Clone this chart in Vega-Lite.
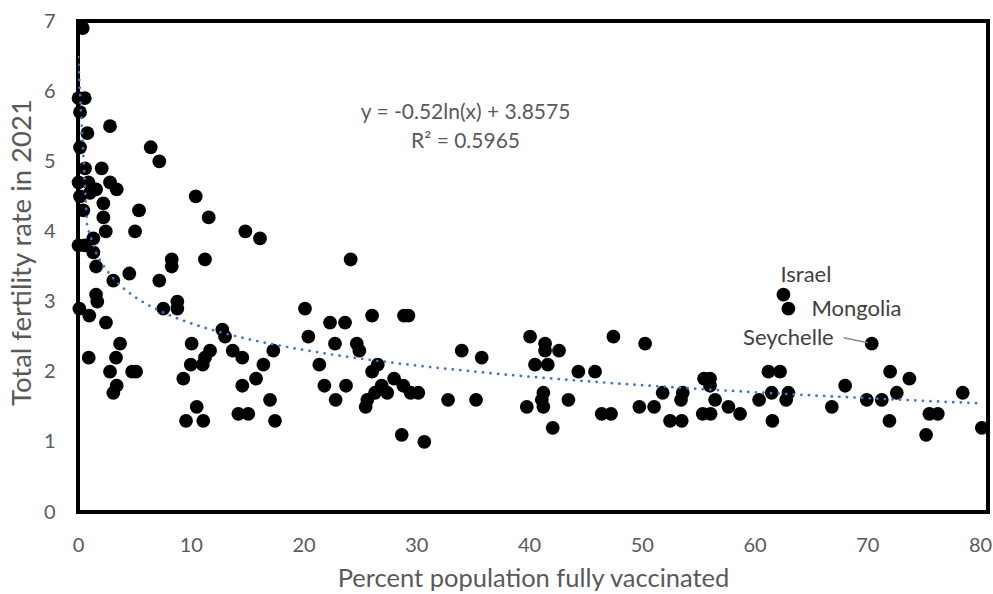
{
  "$schema": "https://vega.github.io/schema/vega-lite/v6.json",
  "width": 910,
  "height": 491,
  "autosize": "none",
  "padding": {"left": 78, "top": 21, "right": 5, "bottom": 82},
  "background": "white",
  "config": {
    "view": {"stroke": "black", "strokeWidth": 4},
    "font": "Lato",
    "axis": {
      "grid": false,
      "ticks": false,
      "domain": false,
      "labelFlush": false,
      "labelColor": "#595959",
      "labelFontSize": 20,
      "labelPadding": 23,
      "titleColor": "#595959",
      "titleFontSize": 25.5,
      "titleFontWeight": "normal"
    }
  },
  "datasets": {
    "pts": [
      {"vax": 0.42, "tfr": 6.9}, {"vax": 0.05, "tfr": 5.9}, {"vax": 0.6, "tfr": 5.9}, {"vax": 0.18, "tfr": 5.7},
      {"vax": 2.84, "tfr": 5.5}, {"vax": 0.83, "tfr": 5.4}, {"vax": 0.18, "tfr": 5.2}, {"vax": 6.45, "tfr": 5.2},
      {"vax": 7.21, "tfr": 5.0}, {"vax": 0.62, "tfr": 4.9}, {"vax": 2.1, "tfr": 4.9}, {"vax": 0.05, "tfr": 4.7},
      {"vax": 0.92, "tfr": 4.7}, {"vax": 0.18, "tfr": 4.5}, {"vax": 1.06, "tfr": 4.55}, {"vax": 1.6, "tfr": 4.6},
      {"vax": 0.47, "tfr": 4.3}, {"vax": 2.25, "tfr": 4.4}, {"vax": 2.25, "tfr": 4.2}, {"vax": 2.84, "tfr": 4.7},
      {"vax": 3.43, "tfr": 4.6}, {"vax": 5.41, "tfr": 4.3}, {"vax": 2.46, "tfr": 4.0}, {"vax": 5.06, "tfr": 4.0},
      {"vax": 10.44, "tfr": 4.5}, {"vax": 11.59, "tfr": 4.2}, {"vax": 14.84, "tfr": 4.0}, {"vax": 16.14, "tfr": 3.9},
      {"vax": 0.05, "tfr": 3.8}, {"vax": 0.62, "tfr": 3.8}, {"vax": 1.36, "tfr": 3.9}, {"vax": 1.36, "tfr": 3.7},
      {"vax": 1.6, "tfr": 3.5}, {"vax": 8.31, "tfr": 3.6}, {"vax": 11.26, "tfr": 3.6}, {"vax": 4.55, "tfr": 3.4},
      {"vax": 8.31, "tfr": 3.5}, {"vax": 3.13, "tfr": 3.3}, {"vax": 7.21, "tfr": 3.3}, {"vax": 1.6, "tfr": 3.1},
      {"vax": 1.71, "tfr": 3.0}, {"vax": 0.12, "tfr": 2.9}, {"vax": 1.0, "tfr": 2.8}, {"vax": 2.48, "tfr": 2.7},
      {"vax": 7.57, "tfr": 2.9}, {"vax": 8.81, "tfr": 3.0}, {"vax": 8.81, "tfr": 2.9}, {"vax": 3.73, "tfr": 2.4},
      {"vax": 3.37, "tfr": 2.2}, {"vax": 0.95, "tfr": 2.2}, {"vax": 2.84, "tfr": 2.0}, {"vax": 4.8, "tfr": 2.0},
      {"vax": 5.15, "tfr": 2.0}, {"vax": 3.43, "tfr": 1.8}, {"vax": 3.13, "tfr": 1.7}, {"vax": 10.08, "tfr": 2.4},
      {"vax": 11.71, "tfr": 2.3}, {"vax": 11.26, "tfr": 2.2}, {"vax": 10.0, "tfr": 2.1}, {"vax": 11.06, "tfr": 2.1},
      {"vax": 9.34, "tfr": 1.9}, {"vax": 12.8, "tfr": 2.6}, {"vax": 13.04, "tfr": 2.5}, {"vax": 13.72, "tfr": 2.3},
      {"vax": 14.57, "tfr": 2.2}, {"vax": 16.44, "tfr": 2.1}, {"vax": 17.32, "tfr": 2.3}, {"vax": 15.79, "tfr": 1.9},
      {"vax": 14.57, "tfr": 1.8}, {"vax": 17.03, "tfr": 1.6}, {"vax": 10.53, "tfr": 1.5}, {"vax": 9.58, "tfr": 1.3},
      {"vax": 11.11, "tfr": 1.3}, {"vax": 14.22, "tfr": 1.4}, {"vax": 15.1, "tfr": 1.4}, {"vax": 17.47, "tfr": 1.3},
      {"vax": 24.18, "tfr": 3.6}, {"vax": 20.13, "tfr": 2.9}, {"vax": 22.35, "tfr": 2.7}, {"vax": 23.68, "tfr": 2.7},
      {"vax": 26.08, "tfr": 2.8}, {"vax": 28.91, "tfr": 2.8}, {"vax": 29.3, "tfr": 2.8}, {"vax": 20.43, "tfr": 2.5},
      {"vax": 22.79, "tfr": 2.4}, {"vax": 24.72, "tfr": 2.4}, {"vax": 24.95, "tfr": 2.3}, {"vax": 21.4, "tfr": 2.1},
      {"vax": 26.58, "tfr": 2.1}, {"vax": 26.08, "tfr": 2.0}, {"vax": 21.85, "tfr": 1.8}, {"vax": 23.77, "tfr": 1.8},
      {"vax": 22.85, "tfr": 1.6}, {"vax": 28.03, "tfr": 1.9}, {"vax": 26.93, "tfr": 1.8}, {"vax": 28.85, "tfr": 1.8},
      {"vax": 26.34, "tfr": 1.7}, {"vax": 27.43, "tfr": 1.7}, {"vax": 29.5, "tfr": 1.7}, {"vax": 30.18, "tfr": 1.7},
      {"vax": 25.66, "tfr": 1.6}, {"vax": 25.51, "tfr": 1.5}, {"vax": 32.82, "tfr": 1.6}, {"vax": 35.3, "tfr": 1.6},
      {"vax": 34.03, "tfr": 2.3}, {"vax": 35.8, "tfr": 2.2}, {"vax": 28.71, "tfr": 1.1}, {"vax": 30.71, "tfr": 1.0},
      {"vax": 39.8, "tfr": 1.5}, {"vax": 40.09, "tfr": 2.5}, {"vax": 41.42, "tfr": 2.4}, {"vax": 41.42, "tfr": 2.3},
      {"vax": 42.66, "tfr": 2.3}, {"vax": 40.53, "tfr": 2.1}, {"vax": 41.66, "tfr": 2.1}, {"vax": 47.48, "tfr": 2.5},
      {"vax": 50.29, "tfr": 2.4}, {"vax": 44.37, "tfr": 2.0}, {"vax": 45.85, "tfr": 2.0}, {"vax": 41.27, "tfr": 1.7},
      {"vax": 41.13, "tfr": 1.6}, {"vax": 41.27, "tfr": 1.5}, {"vax": 43.49, "tfr": 1.6}, {"vax": 42.1, "tfr": 1.2},
      {"vax": 46.44, "tfr": 1.4}, {"vax": 47.27, "tfr": 1.4}, {"vax": 49.78, "tfr": 1.5}, {"vax": 51.09, "tfr": 1.5},
      {"vax": 51.85, "tfr": 1.7}, {"vax": 53.63, "tfr": 1.7}, {"vax": 53.48, "tfr": 1.6}, {"vax": 52.5, "tfr": 1.3},
      {"vax": 53.54, "tfr": 1.3}, {"vax": 55.52, "tfr": 1.9}, {"vax": 56.05, "tfr": 1.9}, {"vax": 56.05, "tfr": 1.8},
      {"vax": 56.5, "tfr": 1.6}, {"vax": 55.4, "tfr": 1.4}, {"vax": 56.1, "tfr": 1.4}, {"vax": 57.68, "tfr": 1.5},
      {"vax": 58.71, "tfr": 1.4}, {"vax": 60.4, "tfr": 1.6},
      {"vax": 62.56, "tfr": 3.1, "country": "Israel"},
      {"vax": 63.0, "tfr": 2.9, "country": "Mongolia"},
      {"vax": 70.39, "tfr": 2.4, "country": "Seychelle"},
      {"vax": 61.23, "tfr": 2.0}, {"vax": 62.26, "tfr": 2.0}, {"vax": 61.52, "tfr": 1.7}, {"vax": 63.0, "tfr": 1.7},
      {"vax": 62.8, "tfr": 1.6}, {"vax": 61.58, "tfr": 1.3}, {"vax": 66.85, "tfr": 1.5}, {"vax": 68.03, "tfr": 1.8},
      {"vax": 69.95, "tfr": 1.6}, {"vax": 71.28, "tfr": 1.6}, {"vax": 72.02, "tfr": 2.0}, {"vax": 73.73, "tfr": 1.9},
      {"vax": 72.61, "tfr": 1.7}, {"vax": 71.96, "tfr": 1.3}, {"vax": 75.5, "tfr": 1.4}, {"vax": 76.25, "tfr": 1.4},
      {"vax": 75.21, "tfr": 1.1}, {"vax": 78.46, "tfr": 1.7}, {"vax": 80.15, "tfr": 1.2}
    ],
    "notes": [
      {"label": "y = -0.52ln(x) + 3.8575", "nx": 34.37, "ny": 5.69},
      {"label": "R² = 0.5965", "nx": 34.37, "ny": 5.28}
    ]
  },
  "encoding": {
    "x": {
      "field": "vax",
      "type": "quantitative",
      "scale": {"domain": [0, 80.7], "nice": false, "zero": false},
      "axis": {
        "values": [0, 10, 20, 30, 40, 50, 60, 70, 80],
        "title": "Percent population fully vaccinated",
        "titleY": 66,
        "titleBaseline": "middle"
      }
    },
    "y": {
      "field": "tfr",
      "type": "quantitative",
      "scale": {"domain": [0, 7], "nice": false, "zero": false},
      "axis": {
        "values": [0, 1, 2, 3, 4, 5, 6, 7],
        "title": "Total fertility rate in 2021",
        "titleFontSize": 27.5,
        "titleX": -56,
        "titleY": 231,
        "titleBaseline": "middle"
      }
    }
  },
  "layer": [
    {
      "data": {"name": "pts"},
      "mark": {"type": "circle", "size": 190, "color": "black", "opacity": 1}
    },
    {
      "data": {"name": "pts"},
      "transform": [{"regression": "tfr", "on": "vax", "method": "log", "extent": [0.01, 80.1]}],
      "mark": {"type": "line", "color": "#4472C4", "strokeWidth": 2.7, "strokeDash": [0.1, 7.5], "strokeCap": "round", "clip": true}
    },
    {
      "data": {"name": "pts"},
      "transform": [{"filter": "datum.country === 'Israel'"}],
      "mark": {"type": "text", "align": "left", "baseline": "middle", "dx": -3, "dy": -20, "fontSize": 22, "color": "#404040"},
      "encoding": {"text": {"field": "country"}}
    },
    {
      "data": {"name": "pts"},
      "transform": [{"filter": "datum.country === 'Mongolia'"}],
      "mark": {"type": "text", "align": "left", "baseline": "middle", "dx": 23, "dy": 0, "fontSize": 22, "color": "#404040"},
      "encoding": {"text": {"field": "country"}}
    },
    {
      "data": {"name": "pts"},
      "transform": [{"filter": "datum.country === 'Seychelle'"}],
      "mark": {"type": "text", "align": "right", "baseline": "middle", "dx": -38, "dy": -6, "fontSize": 22, "color": "#404040"},
      "encoding": {"text": {"field": "country"}}
    },
    {
      "data": {"name": "pts"},
      "transform": [{"filter": "datum.country === 'Seychelle'"}],
      "mark": {"type": "rule", "color": "#8c8c8c", "strokeWidth": 1.5, "xOffset": -28, "yOffset": -6, "x2Offset": -4, "y2Offset": -1},
      "encoding": {"x2": {"field": "vax"}, "y2": {"field": "tfr"}}
    },
    {
      "data": {"name": "notes"},
      "mark": {"type": "text", "align": "center", "baseline": "middle", "fontSize": 21, "color": "#595959"},
      "encoding": {
        "x": {"field": "nx", "type": "quantitative"},
        "y": {"field": "ny", "type": "quantitative"},
        "text": {"field": "label"}
      }
    }
  ]
}
